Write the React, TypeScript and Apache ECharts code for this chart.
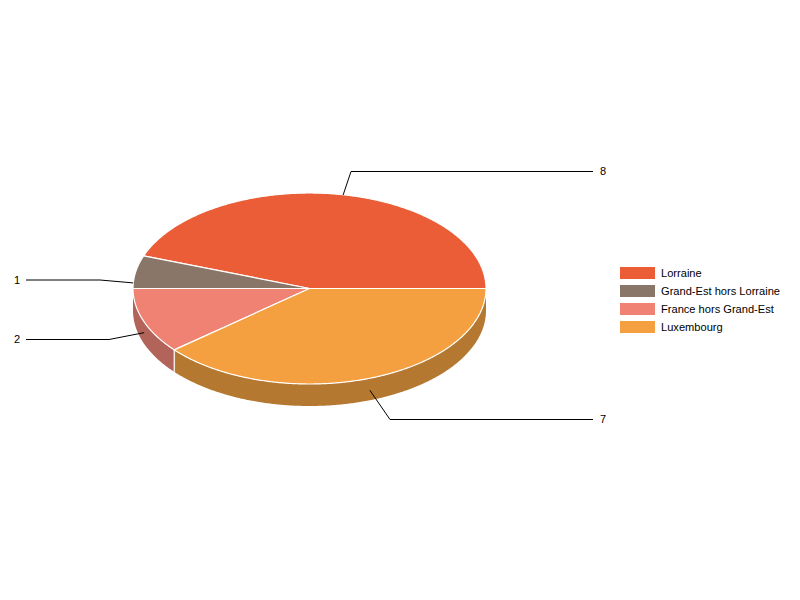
import React, { useEffect, useRef } from "react";
import * as echarts from "echarts";

const categories = ["Lorraine", "Grand-Est hors Lorraine", "France hors Grand-Est", "Luxembourg"];
const values = [8, 1, 2, 7];
const topColors = ["#EA5D37", "#8A7668", "#EF8273", "#F4A040"];
const sideColors = ["#A4422A", "#615349", "#B2645A", "#B57830"];

// Pie geometry (pixels), separate from the data
const CX = 309.5;
const CY = 288.5;
const RX = 176.5;
const RY = 95.5;
const DEPTH = 22;

// Leader-line layout per category: offset of the anchor from the rim point, elbow, line end, text x and y
const leaders = [
  { dx: 3, dy: 0.5, elbow: [351, 171.5], end: [593, 171.5], textX: 603, textY: 171 },
  { dx: -2.5, dy: 11, elbow: [100, 280], end: [26, 280], textX: 17, textY: 280 },
  { dx: 0.5, dy: 11.5, elbow: [109, 339.5], end: [26, 339.5], textX: 17, textY: 339 },
  { dx: 0, dy: 12, elbow: [390, 419.5], end: [593, 419.5], textX: 603, textY: 419 },
];

const total = values.reduce((a, b) => a + b, 0);
const rim = (deg: number, drop = 0): number[] => {
  const r = (deg * Math.PI) / 180;
  return [CX + RX * Math.cos(r), CY - RY * Math.sin(r) + drop];
};
const arc = (from: number, to: number, drop = 0): number[][] => {
  const pts: number[][] = [];
  const n = Math.max(2, Math.ceil((to - from) * 2));
  for (let i = 0; i <= n; i++) pts.push(rim(from + ((to - from) * i) / n, drop));
  return pts;
};

function renderSlice(index: number) {
  return (_params: any, api: any) => {
    const value = api.value(0);
    const before = values.slice(0, index).reduce((a, b) => a + b, 0);
    const start = (before / total) * 360;
    const end = start + (value / total) * 360;
    const mid = (start + end) / 2;
    const children: any[] = [];

    const sFrom = Math.max(start, 180);
    const sTo = Math.min(end, 360);
    if (sTo > sFrom) {
      const upper = arc(sFrom, sTo);
      const lower = arc(sFrom, sTo, DEPTH).reverse();
      children.push({
        type: "polygon",
        shape: { points: [...upper, ...lower] },
        style: { fill: sideColors[index], stroke: null },
      });
      if (start > 180.01) {
        children.push({
          type: "line",
          shape: { x1: rim(start)[0], y1: rim(start)[1], x2: rim(start)[0], y2: rim(start)[1] + DEPTH },
          style: { stroke: "#FFFFFF", lineWidth: 1.5, opacity: 0.8 },
        });
      }
    }

    children.push({
      type: "polygon",
      shape: { points: [[CX, CY], ...arc(start, end)] },
      style: { fill: topColors[index], stroke: "#FFFFFF", lineWidth: 1.2, lineJoin: "round" },
    });

    const l = leaders[index];
    const a = rim(mid);
    children.push({
      type: "polyline",
      shape: { points: [[a[0] + l.dx, a[1] + l.dy], l.elbow, l.end] },
      style: { fill: null, stroke: "#000000", lineWidth: 1 },
      z2: 10,
    });
    children.push({
      type: "text",
      style: {
        text: String(value),
        x: l.textX,
        y: l.textY,
        align: "center",
        verticalAlign: "middle",
        fill: "#000000",
        font: '11px "Liberation Sans", Arial, sans-serif',
      },
      z2: 10,
    });
    return { type: "group", children };
  };
}

export default function App() {
  const ref = useRef<HTMLDivElement>(null);
  useEffect(() => {
    document.body.style.margin = "0";
    const chart = echarts.init(ref.current!, null, { renderer: "svg" });
    chart.setOption({
      animation: false,
      backgroundColor: "#FFFFFF",
      color: topColors,
      legend: {
        orient: "vertical",
        left: 620,
        top: 267,
        padding: 0,
        itemWidth: 35,
        itemHeight: 12,
        itemGap: 6,
        icon: "rect",
        selectedMode: false,
        data: categories,
        textStyle: {
          fontFamily: '"Liberation Sans", Arial, sans-serif',
          fontSize: 11.1,
          color: "#000000",
          padding: [0, 0, 0, 1],
        },
      },
      series: categories.map((name, i) => ({
        type: "custom",
        name,
        coordinateSystem: "none",
        silent: true,
        itemStyle: { color: topColors[i] },
        data: [[values[i]]],
        renderItem: renderSlice(i),
      })),
    });
    return () => chart.dispose();
  }, []);
  return <div ref={ref} style={{ width: 800, height: 600 }} />;
}
